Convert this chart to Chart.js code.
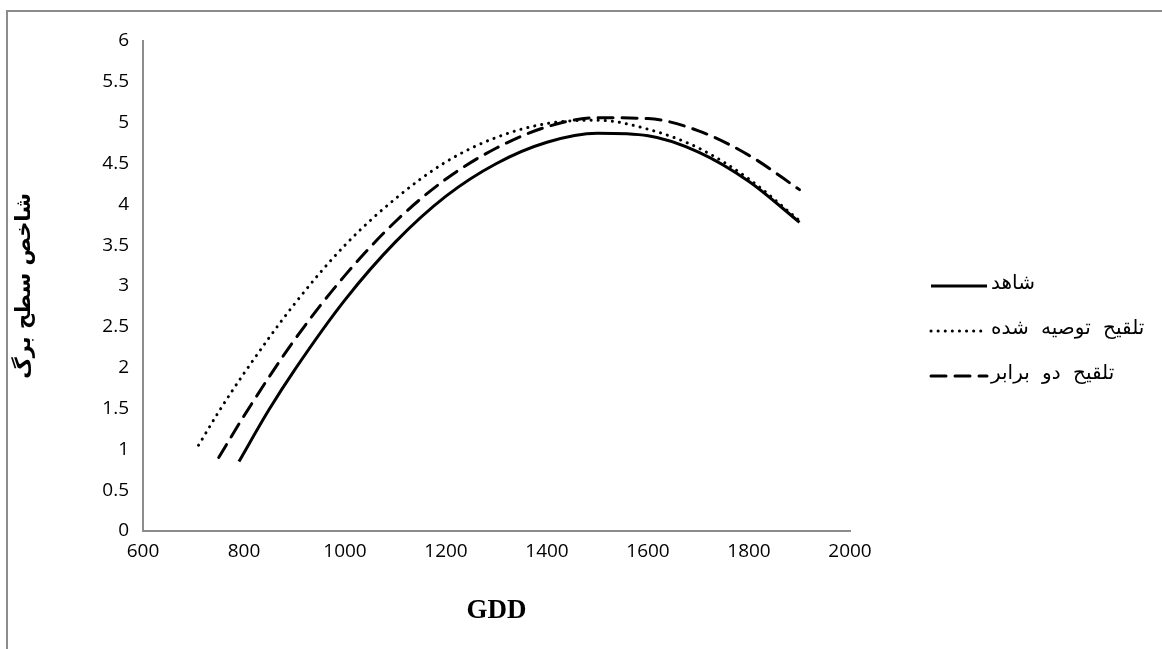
<!DOCTYPE html>
<html>
<head>
<meta charset="utf-8">
<title>LAI vs GDD</title>
<script src="https://cdn.jsdelivr.net/npm/chart.js@4.4.1/dist/chart.umd.min.js"></script>
<style>
    html, body { margin: 0; padding: 0; background: #fff; }
    #wrap { width: 1162px; height: 649px; position: relative; }
</style>
</head>
<body>
<div id="wrap"><canvas id="laiChart" width="1162" height="649"></canvas></div>
<script>
// Datos
const seriesNames = ['شاهد', 'تلقیح توصیه شده', 'تلقیح دو برابر'];

const gddControl = [790, 850, 900, 1000, 1100, 1200, 1300, 1400, 1500, 1600, 1700, 1800, 1900];
const laiControl = [0.85, 1.49, 1.97, 2.83, 3.54, 4.10, 4.50, 4.76, 4.87, 4.84, 4.64, 4.28, 3.78];

const gddRecommended = [710, 750, 800, 900, 1000, 1100, 1200, 1300, 1400, 1500, 1600, 1700, 1800, 1900];
const laiRecommended = [1.05, 1.46, 1.93, 2.78, 3.50, 4.07, 4.52, 4.82, 4.99, 5.03, 4.92, 4.69, 4.31, 3.80];

const gddDouble = [750, 800, 900, 1000, 1100, 1200, 1300, 1400, 1500, 1600, 1700, 1800, 1900];
const laiDouble = [0.90, 1.41, 2.34, 3.13, 3.79, 4.31, 4.69, 4.95, 5.06, 5.05, 4.90, 4.60, 4.18];

const xTicks = [600, 800, 1000, 1200, 1400, 1600, 1800, 2000];
const yTicks = [0, 0.5, 1, 1.5, 2, 2.5, 3, 3.5, 4, 4.5, 5, 5.5, 6];

function toPoints(xs, ys) {
    return xs.map((x, i) => ({ x: x, y: ys[i] }));
}

// Marco gris (solo arriba e izquierda, como en la imagen)
const framePlugin = {
    id: 'frame',
    beforeDraw(chart) {
        const ctx = chart.ctx;
        ctx.save();
        ctx.strokeStyle = '#8c8c8c';
        ctx.lineWidth = 2;
        ctx.beginPath();
        ctx.moveTo(7, 649);
        ctx.lineTo(7, 11);
        ctx.lineTo(1162, 11);
        ctx.stroke();
        ctx.restore();
    }
};

// Leyenda dibujada a mano a la derecha
const legendPlugin = {
    id: 'sideLegend',
    afterDraw(chart) {
        const ctx = chart.ctx;
        const startY = 286;
        const gap = 45;
        ctx.save();
        chart.data.datasets.forEach((ds, i) => {
            const y = startY + i * gap;
            ctx.strokeStyle = '#000';
            ctx.lineWidth = ds.borderWidth;
            ctx.setLineDash(ds.borderDash || []);
            ctx.lineCap = ds.borderCapStyle || 'butt';
            ctx.beginPath();
            ctx.moveTo(931, y);
            ctx.lineTo(987, y);
            ctx.stroke();
            ctx.setLineDash([]);
            ctx.fillStyle = '#000';
            ctx.font = '20px "DejaVu Sans"';
            if ('wordSpacing' in ctx) ctx.wordSpacing = '6px';
            ctx.textAlign = 'left';
            ctx.textBaseline = 'middle';
            ctx.fillText(ds.label, 991, y - 2);
        });
        ctx.restore();
    }
};

const ctx = document.getElementById('laiChart').getContext('2d');
const laiChart = new Chart(ctx, {
    type: 'line',
    data: {
        datasets: [{
            label: seriesNames[0],
            data: toPoints(gddControl, laiControl),
            borderColor: '#000',
            borderWidth: 3,
            pointRadius: 0,
            cubicInterpolationMode: 'monotone',
            fill: false
        }, {
            label: seriesNames[1],
            data: toPoints(gddRecommended, laiRecommended),
            borderColor: '#000',
            borderWidth: 3,
            borderDash: [0.1, 7],
            borderCapStyle: 'round',
            pointRadius: 0,
            cubicInterpolationMode: 'monotone',
            fill: false
        }, {
            label: seriesNames[2],
            data: toPoints(gddDouble, laiDouble),
            borderColor: '#000',
            borderWidth: 3,
            borderDash: [15, 9],
            borderCapStyle: 'round',
            pointRadius: 0,
            cubicInterpolationMode: 'monotone',
            fill: false
        }]
    },
    options: {
        responsive: false,
        animation: false,
        layout: {
            padding: { left: 12, right: 312, top: 41, bottom: 14 }
        },
        plugins: {
            legend: { display: false },
            tooltip: { enabled: false }
        },
        scales: {
            x: {
                type: 'linear',
                min: 600,
                max: 2000,
                afterBuildTicks: (scale) => {
                    scale.ticks = xTicks.map(v => ({ value: v }));
                },
                afterFit: (scale) => {
                    scale.height = 104;
                },
                grid: { display: false, drawTicks: false },
                border: { display: true, color: '#8c8c8c', width: 2 },
                ticks: {
                    color: '#000',
                    padding: 9,
                    maxRotation: 0,
                    callback: (v) => String(v),
                    font: { family: '"Open Sans"', size: 19 }
                },
                title: {
                    display: true,
                    text: 'GDD',
                    color: '#000',
                    padding: { top: 2, bottom: 8 },
                    font: { family: '"Liberation Serif"', size: 27, weight: 'bold' }
                }
            },
            y: {
                min: 0,
                max: 6,
                afterBuildTicks: (scale) => {
                    scale.ticks = yTicks.map(v => ({ value: v }));
                },
                afterFit: (scale) => {
                    scale.width = 131;
                },
                grid: { display: false, drawTicks: false },
                border: { display: true, color: '#8c8c8c', width: 2 },
                ticks: {
                    color: '#000',
                    padding: 14,
                    callback: (v) => String(v),
                    font: { family: '"Open Sans"', size: 19 }
                },
                title: {
                    display: true,
                    text: 'شاخص سطح برگ',
                    color: '#000',
                    padding: { top: 0, bottom: 0 },
                    font: { family: '"DejaVu Sans"', size: 21, weight: 'bold' }
                }
            }
        }
    },
    plugins: [framePlugin, legendPlugin]
});
</script>
</body>
</html>
